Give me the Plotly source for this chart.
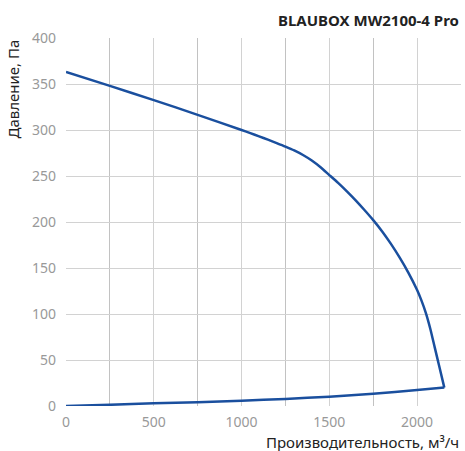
import plotly.graph_objects as go

# Fan curve (flow m3/h, pressure Pa)
fan_flow = [0, 250, 500, 750, 1000, 1050, 1100, 1150, 1200, 1250,
            1300, 1350, 1400, 1450, 1500, 1550, 1600, 1650, 1700, 1750, 1800, 1850, 1900, 1950,
            2000, 2025, 2050, 2075, 2100, 2125, 2155]
fan_pressure = [363, 348, 332.5, 316.5, 300, 296.6, 293.1, 289.5, 285.8, 282,
                277.8, 272.8, 266.8, 259.5, 251, 242.5, 233.3, 223.5, 213, 202, 190, 176.5, 161.5, 145,
                126, 114.5, 101, 84, 64, 44, 20]
# System curve
sys_flow = [0, 250, 500, 750, 1000, 1250, 1500, 1750, 2000, 2155]
sys_pressure = [0, 1.3, 2.9, 4.2, 5.8, 7.7, 10.1, 13.3, 17.4, 20]

x_ticks = [0, 500, 1000, 1500, 2000]
y_ticks = [0, 50, 100, 150, 200, 250, 300, 350, 400]

title_text = "BLAUBOX MW2100-4 Pro"
x_title = "Производительность, м³/ч"
y_title = "Давление, Па"

line_color = "#1a4f9e"
font_family = "Noto Sans, Open Sans, sans-serif"

fig = go.Figure()
fig.add_trace(go.Scatter(x=fan_flow, y=fan_pressure,
                         mode="lines", line=dict(color=line_color, width=2.5, shape="spline", smoothing=0.6),
                         hoverinfo="skip", showlegend=False))
fig.add_trace(go.Scatter(x=sys_flow, y=sys_pressure,
                         mode="lines", line=dict(color=line_color, width=2.5, shape="spline", smoothing=0.6),
                         hoverinfo="skip", showlegend=False))

fig.update_layout(
    width=465, height=451,
    margin=dict(l=66, r=4, t=38, b=45),
    paper_bgcolor="white", plot_bgcolor="white",
    font=dict(family=font_family, size=14, color="#999999"),
    xaxis=dict(range=[0, 2250], tickvals=x_ticks, ticktext=[str(v) for v in x_ticks],
               showgrid=True, gridcolor="#d2d2d2", gridwidth=1,
               minor=dict(dtick=250, showgrid=True, gridcolor="#c2c2c2", gridwidth=1),
               zeroline=False, showline=False, ticks="", ticklabelstandoff=6,
               tickfont=dict(color="#999999", size=14), fixedrange=True),
    yaxis=dict(range=[0, 400], tickvals=y_ticks, ticktext=[str(v) for v in y_ticks],
               showgrid=True, gridcolor="#d2d2d2", gridwidth=1,
               zeroline=False, showline=False, ticks="", ticklabelstandoff=9,
               tickfont=dict(color="#999999", size=14), fixedrange=True),
    annotations=[
        dict(text="<b>" + title_text + "</b>", xref="paper", yref="paper", x=1, y=1,
             xanchor="right", yanchor="bottom", yshift=6, showarrow=False,
             font=dict(size=15, color="#222222", family=font_family)),
        dict(text=x_title, xref="paper", yref="paper", x=1, y=0, xanchor="right", yanchor="top",
             yshift=-24, showarrow=False, font=dict(size=15, color="#222222", family=font_family)),
        dict(text=y_title, xref="paper", yref="paper", x=0, y=1, xanchor="right", yanchor="top",
             xshift=-42, textangle=-90, showarrow=False,
             font=dict(size=15, color="#222222", family=font_family)),
    ],
)

fig.write_html("out.html")
